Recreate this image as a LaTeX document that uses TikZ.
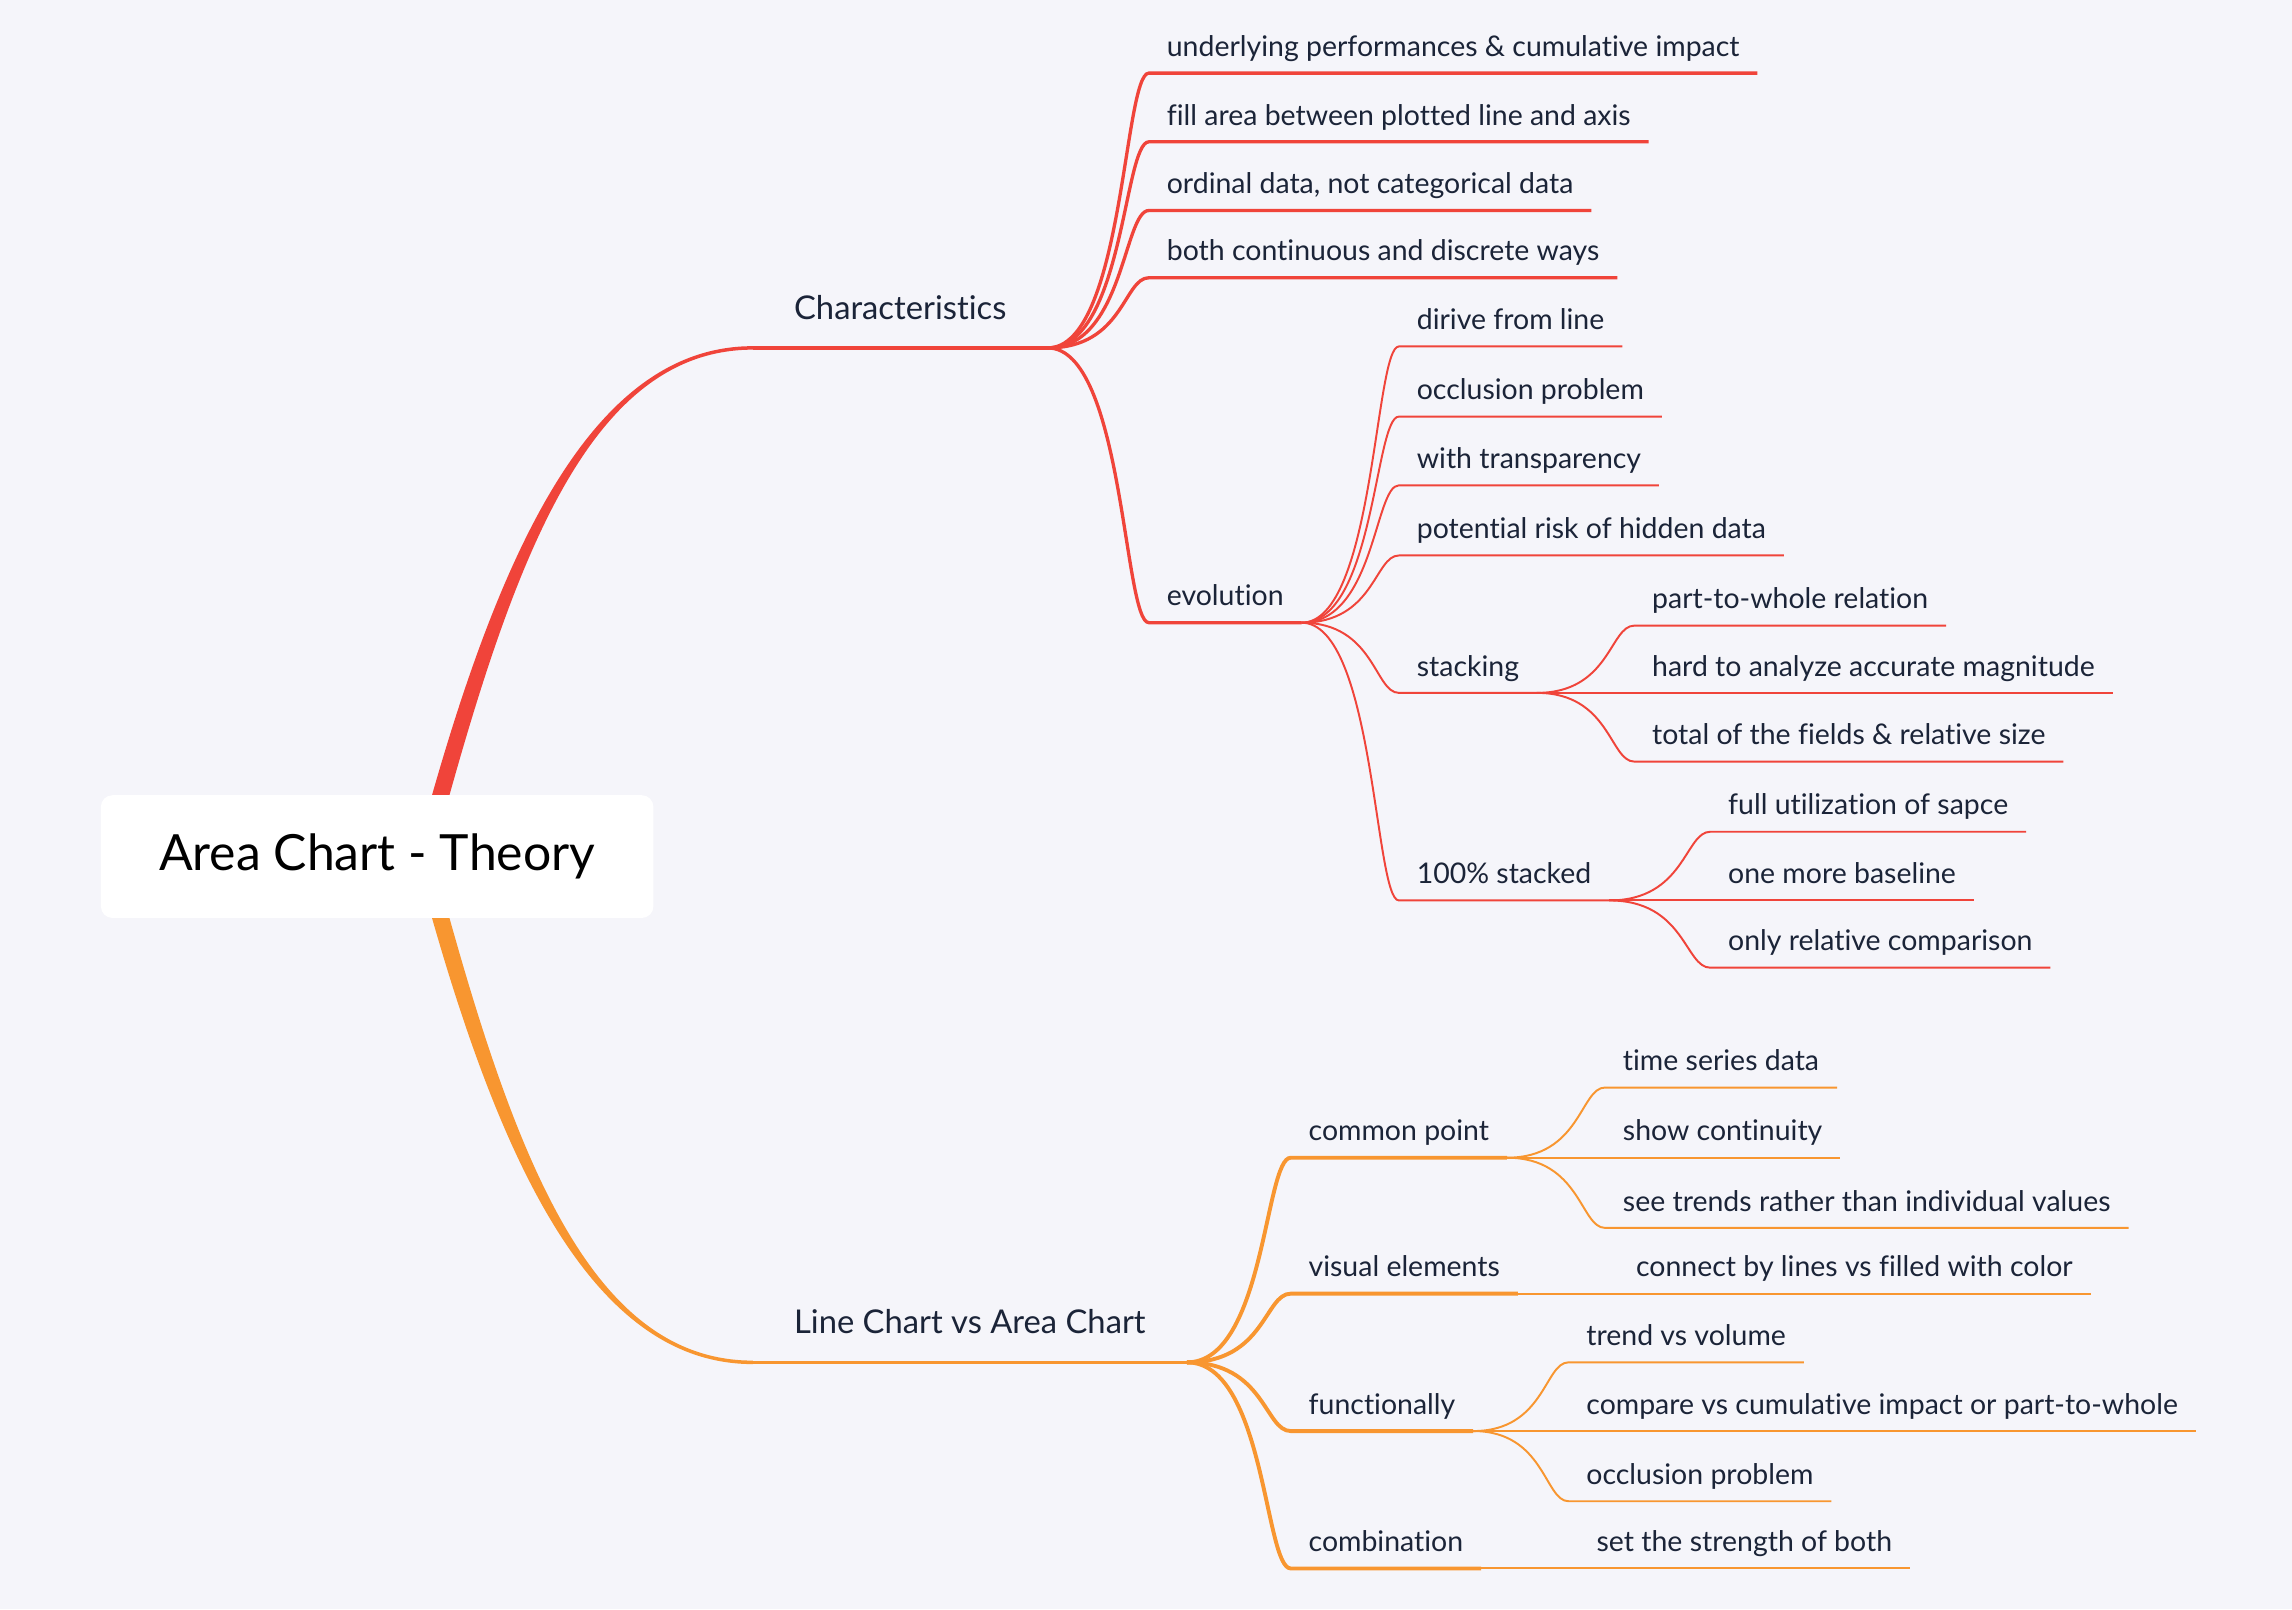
\documentclass[tikz,border=0pt]{standalone}
\usepackage{fontspec}
\setmainfont{Lato}[Ligatures=NoCommon]
\usetikzlibrary{calc}
\definecolor{mred}{RGB}{240,68,58}
\definecolor{morange}{RGB}{248,150,48}
\definecolor{mbg}{RGB}{245,245,250}
\definecolor{mink}{RGB}{27,36,56}
\tikzset{
  branch/.style={to path={let \p1=(\tikztostart), \p2=(\tikztotarget) in
    .. controls ({\x1+0.75*(\x2-\x1)},\y1) and ({\x2-0.25*(\x2-\x1)},\y2) .. (\tikztotarget)}},
  rootbox/.style={fill=white,rounded corners=6pt,minimum width=283.5pt,minimum height=63pt,
    font=\fontsize{25.6}{30}\selectfont,text=black},
  mainbox/.style={anchor=south west,inner xsep=21pt,inner ysep=14.5pt,text depth=0pt,
    font=\fontsize{16.8}{20}\selectfont,text=mink},
  leafbox/.style={anchor=south west,inner xsep=9pt,inner ysep=8.4pt,text depth=0pt,
    font=\fontsize{14.6}{17}\selectfont,text=mink},
  thickline/.style={line width=1.7pt},
  boldline/.style={line width=2pt},
  thinline/.style={line width=1pt}
}
\begin{document}
\begin{tikzpicture}[x=0.75pt,y=-0.75pt]
\fill[mbg] (0,0) rectangle (1568,1101);
\useasboundingbox (0,0) rectangle (1568,1101);
\node[mainbox] (char) at (515,238) {Characteristics};
\node[mainbox] (lin) at (515,932) {Line Chart vs Area Chart};
\coordinate (rmid) at (290,586);
\fill[mred] ($(rmid)+(-6,0)$) .. controls +(52,-196) and +(-115,0) .. ($(char.south west)+(0,-1.2)$)
  -- ($(char.south west)+(0,1.2)$) .. controls +(-115,0) and +(52,-194) .. ($(rmid)+(6,0)$) -- cycle;
\fill[morange] ($(rmid)+(-6,0)$) .. controls +(52,196) and +(-115,0) .. ($(lin.south west)+(0,1.2)$)
  -- ($(lin.south west)+(0,-1.2)$) .. controls +(-115,0) and +(52,194) .. ($(rmid)+(6,0)$) -- cycle;
\draw[mred,thickline] (char.south west) -- (char.south east);
\draw[morange,thickline] (lin.south west) -- (lin.south east);
\node[rootbox] (root) at (258,586) {Area Chart - Theory};
% Characteristics
\foreach \nm/\y/\txt in {c1/50/{underlying performances \& cumulative impact},
    c2/97/{fill area between plotted line and axis}, c3/144/{ordinal data, not categorical data},
    c4/190/{both continuous and discrete ways}, evo/426/{evolution}}{
  \node[leafbox] (\nm) at (786,\y) {\txt};
  \draw[mred,thickline] (char.south east) to[branch] (\nm.south west) -- (\nm.south east);
}
\foreach \nm/\y/\txt in {e1/237/{dirive from line}, e2/285/{occlusion problem},
    e3/332/{with transparency}, e4/380/{potential risk of hidden data},
    stk/474/{stacking}, hst/616/{100\% stacked}}{
  \node[leafbox] (\nm) at (957,\y) {\txt};
  \draw[mred,thinline] (evo.south east) to[branch] (\nm.south west) -- (\nm.south east);
}
\foreach \nm/\y/\txt in {s1/428/{part-to-whole relation}, s2/474/{hard to analyze accurate magnitude},
    s3/521/{total of the fields \& relative size}}{
  \node[leafbox] (\nm) at (1118,\y) {\txt};
  \draw[mred,thinline] (stk.south east) to[branch] (\nm.south west) -- (\nm.south east);
}
\foreach \nm/\y/\txt in {h1/569/{full utilization of sapce}, h2/616/{one more baseline},
    h3/662/{only relative comparison}}{
  \node[leafbox] (\nm) at (1170,\y) {\txt};
  \draw[mred,thinline] (hst.south east) to[branch] (\nm.south west) -- (\nm.south east);
}
% Line Chart vs Area Chart
\foreach \nm/\y/\txt in {cp/792/{common point}, ve/885/{visual elements},
    fu/979/{functionally}, co/1073/{combination}}{
  \node[leafbox] (\nm) at (883,\y) {\txt};
  \draw[morange,boldline] (lin.south east) to[branch] (\nm.south west) -- (\nm.south east);
}
\foreach \nm/\y/\txt in {p1/744/{time series data}, p2/792/{show continuity},
    p3/840/{see trends rather than individual values}}{
  \node[leafbox] (\nm) at (1098,\y) {\txt};
  \draw[morange,thinline] (cp.south east) to[branch] (\nm.south west) -- (\nm.south east);
}
\node[leafbox] (v1) at (1107,885) {connect by lines vs filled with color};
\draw[morange,thinline] (ve.south east) -- (v1.south west) -- (v1.south east);
\foreach \nm/\y/\txt in {f1/932/{trend vs volume}, f2/979/{compare vs cumulative impact or part-to-whole},
    f3/1027/{occlusion problem}}{
  \node[leafbox] (\nm) at (1073,\y) {\txt};
  \draw[morange,thinline] (fu.south east) to[branch] (\nm.south west) -- (\nm.south east);
}
\node[leafbox] (b1) at (1080,1073) {set the strength of both};
\draw[morange,thinline] (co.south east) -- (b1.south west) -- (b1.south east);
\end{tikzpicture}
\end{document}
